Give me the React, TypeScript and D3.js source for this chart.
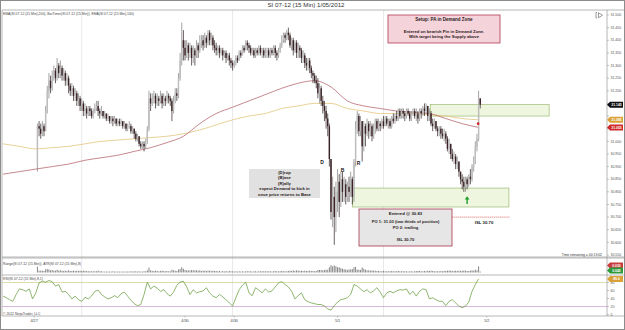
import { useEffect, useRef } from "react";
import * as d3 from "d3";

const FONT = "'Liberation Sans', Arial, sans-serif";

// 15 min bars. slot 0 = left edge of the chart, first visible bar is slot 21
// open of each bar = close of the bar before
const firstSlot = 21;
const firstOpen = 30.9;
const closes = [
  31.06, 31.05, 31.03, 31.06, 31.04, 31.12, 31.2, 31.24, 31.21, 31.26,
  31.28, 31.25, 31.3, 31.27, 31.29, 31.26, 31.27, 31.24, 31.25, 31.22,
  31.2, 31.21, 31.18, 31.19, 31.16, 31.17, 31.14, 31.15, 31.12, 31.13,
  31.11, 31.13, 31.12, 31.1, 31.12, 31.13, 31.14, 31.12, 31.11, 31.12,
  31.1, 31.11, 31.09, 31.1, 31.08, 31.09, 31.08, 31.09, 31.07, 31.08,
  31.07, 31.08, 31.06, 31.07, 31.05, 31.06, 31.06, 31.04, 31.05, 31.03,
  31.01, 31.02, 30.99, 30.98, 30.99, 30.98, 31.0, 31.05, 31.17, 31.15,
  31.17, 31.18, 31.15, 31.17, 31.16, 31.18, 31.15, 31.17, 31.16, 31.18,
  31.17, 31.16, 31.12, 31.16, 31.19, 31.18, 31.25, 31.32, 31.4, 31.37,
  31.34, 31.38, 31.35, 31.37, 31.33, 31.36, 31.34, 31.38, 31.36, 31.39,
  31.4, 31.38, 31.41, 31.39, 31.43, 31.4, 31.41, 31.38, 31.37, 31.36,
  31.37, 31.35, 31.36, 31.34, 31.35, 31.33, 31.34, 31.32, 31.31, 31.3,
  31.31, 31.33, 31.32, 31.35, 31.34, 31.37, 31.36, 31.39, 31.38, 31.37,
  31.35, 31.36, 31.34, 31.36, 31.35, 31.37, 31.35, 31.36, 31.34, 31.35,
  31.36, 31.34, 31.36, 31.35, 31.37, 31.35, 31.34, 31.36, 31.38, 31.4,
  31.42, 31.41, 31.43, 31.42, 31.38, 31.4, 31.36, 31.39, 31.35, 31.37,
  31.36, 31.33, 31.34, 31.31, 31.3, 31.32, 31.29, 31.27, 31.26, 31.24,
  31.23, 31.19, 31.21, 31.16, 31.14, 31.12, 31.09, 31.06, 30.93, 30.72,
  30.78, 30.7, 30.8, 30.84, 30.76, 30.85, 30.8, 30.83, 30.78, 30.82,
  30.8, 30.85, 30.78, 30.92, 31.05, 31.1, 31.04, 31.08, 30.98, 31.06,
  31.03, 31.07, 31.04, 31.06, 31.02, 31.05, 31.08, 31.05, 31.07, 31.06,
  31.08, 31.06, 31.09, 31.07, 31.08, 31.06, 31.09, 31.08, 31.1, 31.09,
  31.12, 31.1, 31.12, 31.11, 31.1, 31.12, 31.11, 31.09, 31.11, 31.12,
  31.1, 31.11, 31.09, 31.12, 31.11, 31.13, 31.12, 31.14, 31.1, 31.11,
  31.07, 31.06, 31.08, 31.05, 31.04, 31.05, 31.03, 31.02, 31.03, 31.01,
  30.97, 30.99, 30.95, 30.93, 30.94, 30.91, 30.92, 30.88, 30.85, 30.84,
  30.82, 30.85, 30.83, 30.86, 30.85, 30.9, 30.92, 30.98, 31.01, 31.17, 31.145,
];
const highs = [
  31.07, 31.08, 31.07, 31.08, 31.07, 31.14, 31.22, 31.27, 31.26, 31.28,
  31.3, 31.29, 31.33, 31.31, 31.32, 31.3, 31.29, 31.28, 31.27, 31.26,
  31.23, 31.23, 31.22, 31.21, 31.2, 31.19, 31.18, 31.17, 31.16, 31.15,
  31.14, 31.14, 31.14, 31.13, 31.13, 31.15, 31.16, 31.16, 31.13, 31.14,
  31.12, 31.12, 31.11, 31.11, 31.1, 31.1, 31.1, 31.1, 31.09, 31.09,
  31.09, 31.09, 31.08, 31.08, 31.07, 31.07, 31.08, 31.07, 31.06, 31.05,
  31.04, 31.03, 31.02, 31.0, 31.0, 31.0, 31.01, 31.06, 31.2, 31.19,
  31.19, 31.2, 31.19, 31.19, 31.18, 31.2, 31.19, 31.19, 31.18, 31.2,
  31.19, 31.18, 31.17, 31.18, 31.21, 31.21, 31.27, 31.35, 31.47, 31.44,
  31.4, 31.4, 31.39, 31.39, 31.38, 31.38, 31.37, 31.4, 31.39, 31.42,
  31.42, 31.42, 31.43, 31.42, 31.44, 31.44, 31.43, 31.42, 31.4, 31.39,
  31.38, 31.38, 31.37, 31.37, 31.36, 31.36, 31.35, 31.35, 31.33, 31.32,
  31.32, 31.34, 31.34, 31.36, 31.36, 31.38, 31.38, 31.4, 31.4, 31.39,
  31.38, 31.37, 31.37, 31.37, 31.37, 31.38, 31.38, 31.37, 31.37, 31.37,
  31.37, 31.37, 31.37, 31.37, 31.38, 31.38, 31.36, 31.37, 31.39, 31.42,
  31.43, 31.43, 31.44, 31.45, 31.43, 31.41, 31.41, 31.4, 31.4, 31.39,
  31.38, 31.37, 31.36, 31.35, 31.33, 31.33, 31.33, 31.3, 31.28, 31.27,
  31.26, 31.25, 31.23, 31.22, 31.18, 31.16, 31.14, 31.11, 31.07, 30.93,
  30.86, 30.82, 30.84, 30.89, 30.87, 30.88, 30.88, 30.86, 30.85, 30.84,
  30.86, 30.88, 30.86, 30.93, 31.08, 31.12, 31.11, 31.1, 31.08, 31.08,
  31.07, 31.09, 31.08, 31.08, 31.07, 31.07, 31.09, 31.09, 31.09, 31.08,
  31.09, 31.1, 31.1, 31.1, 31.09, 31.09, 31.1, 31.11, 31.11, 31.12,
  31.13, 31.13, 31.13, 31.13, 31.12, 31.13, 31.13, 31.12, 31.12, 31.13,
  31.13, 31.13, 31.12, 31.13, 31.13, 31.14, 31.15, 31.15, 31.14, 31.13,
  31.12, 31.09, 31.09, 31.08, 31.06, 31.06, 31.06, 31.05, 31.05, 31.04,
  31.02, 31.01, 30.99, 30.97, 30.96, 30.95, 30.94, 30.92, 30.88, 30.87,
  30.86, 30.86, 30.86, 30.87, 30.89, 30.91, 30.94, 31.0, 31.03, 31.2, 31.16,
];
const lows = [
  30.88, 31.02, 31.01, 31.02, 31.02, 31.04, 31.11, 31.17, 31.19, 31.2,
  31.24, 31.23, 31.24, 31.25, 31.25, 31.24, 31.24, 31.22, 31.22, 31.19,
  31.18, 31.18, 31.16, 31.16, 31.14, 31.14, 31.12, 31.12, 31.1, 31.1,
  31.09, 31.1, 31.1, 31.09, 31.09, 31.11, 31.12, 31.1, 31.09, 31.1,
  31.09, 31.09, 31.08, 31.08, 31.07, 31.07, 31.06, 31.07, 31.06, 31.06,
  31.06, 31.06, 31.05, 31.05, 31.04, 31.04, 31.05, 31.03, 31.03, 31.01,
  31.0, 31.0, 30.98, 30.97, 30.97, 30.96, 30.97, 30.99, 31.04, 31.12,
  31.14, 31.15, 31.13, 31.14, 31.14, 31.15, 31.13, 31.14, 31.14, 31.15,
  31.15, 31.14, 31.08, 31.11, 31.15, 31.16, 31.17, 31.24, 31.3, 31.32,
  31.32, 31.33, 31.32, 31.33, 31.3, 31.31, 31.3, 31.33, 31.33, 31.35,
  31.37, 31.36, 31.37, 31.37, 31.38, 31.38, 31.38, 31.36, 31.35, 31.34,
  31.34, 31.33, 31.34, 31.32, 31.33, 31.31, 31.32, 31.3, 31.29, 31.28,
  31.29, 31.3, 31.31, 31.32, 31.33, 31.34, 31.35, 31.36, 31.36, 31.35,
  31.34, 31.34, 31.33, 31.33, 31.34, 31.34, 31.34, 31.33, 31.33, 31.33,
  31.33, 31.33, 31.33, 31.34, 31.34, 31.33, 31.32, 31.33, 31.35, 31.37,
  31.39, 31.39, 31.4, 31.4, 31.37, 31.36, 31.34, 31.35, 31.33, 31.33,
  31.33, 31.31, 31.31, 31.29, 31.28, 31.28, 31.27, 31.25, 31.23, 31.23,
  31.21, 31.17, 31.15, 31.14, 31.11, 31.08, 31.05, 31.02, 30.9, 30.69,
  30.66, 30.59, 30.64, 30.72, 30.7, 30.74, 30.76, 30.76, 30.75, 30.76,
  30.76, 30.78, 30.75, 30.76, 30.9, 31.03, 31.02, 31.02, 30.92, 30.96,
  30.98, 31.02, 31.01, 31.02, 31.0, 31.01, 31.03, 31.04, 31.04, 31.04,
  31.05, 31.05, 31.06, 31.06, 31.05, 31.05, 31.05, 31.07, 31.07, 31.08,
  31.08, 31.09, 31.09, 31.09, 31.08, 31.09, 31.1, 31.08, 31.08, 31.1,
  31.09, 31.08, 31.07, 31.08, 31.09, 31.1, 31.1, 31.11, 31.08, 31.08,
  31.06, 31.04, 31.05, 31.04, 31.02, 31.02, 31.01, 31.01, 31.0, 30.99,
  30.96, 30.95, 30.93, 30.92, 30.91, 30.89, 30.89, 30.86, 30.83, 30.81,
  30.8, 30.8, 30.81, 30.82, 30.83, 30.84, 30.88, 30.91, 30.96, 31.0, 31.13,
];

// EMA values every 10 slots, from slot 0
const emaStep = 10;
const ema200 = [
  30.99, 30.98, 30.97, 30.975, 30.98, 30.99, 31.0, 31.005, 31.01, 31.015,
  31.02, 31.03, 31.045, 31.065, 31.085, 31.1, 31.11, 31.13, 31.14, 31.15,
  31.15, 31.13, 31.12, 31.11, 31.11, 31.11, 31.105, 31.1, 31.09, 31.085,
];
const ema100 = [
  30.87, 30.88, 30.89, 30.9, 30.91, 30.925, 30.935, 30.945, 30.96, 30.975,
  30.995, 31.02, 31.07, 31.11, 31.135, 31.16, 31.185, 31.21, 31.23, 31.24,
  31.215, 31.16, 31.14, 31.13, 31.12, 31.115, 31.11, 31.09, 31.07, 31.055,
];

// RSI(8,1) read every 2 slots, from slot 0
const rsiStep = 2;
const rsiValues = [
  46, 42, 37, 33, 50, 64, 62, 58, 64, 39,
  54, 79, 83, 81, 85, 82, 71, 75, 56, 58,
  50, 39, 46, 37, 33, 43, 39, 46, 58, 61,
  50, 44, 39, 42, 47, 42, 52, 56, 46, 36,
  27, 22, 25, 50, 81, 64, 71, 66, 58, 62,
  52, 46, 56, 73, 81, 83, 69, 50, 62, 54,
  57, 59, 67, 54, 46, 42, 50, 44, 37, 29,
  21, 42, 62, 73, 81, 54, 47, 67, 61, 54,
  64, 56, 59, 69, 79, 82, 75, 69, 58, 39,
  47, 54, 37, 32, 29, 27, 25, 25, 21, 14,
  11, 22, 31, 37, 39, 42, 50, 75, 71, 64,
  57, 62, 54, 59, 67, 56, 42, 54, 58, 54,
  59, 62, 61, 64, 50, 58, 46, 58, 64, 62,
  39, 42, 37, 33, 33, 22, 33, 37, 29, 21,
  17, 21, 31, 58, 75, 89,
];

const priceTicks = [
  31.5, 31.45, 31.4, 31.35, 31.3, 31.25, 31.2, 31.15, 31.1, 31.05,
  31.0, 30.95, 30.9, 30.85, 30.8, 30.75, 30.7, 30.65, 30.6, 30.55,
];
const rsiTicks = [80, 60, 40, 20, 0];
const rsiLevels = [80, 20];
const dateLabels = ["4/27", "4/30", "4/30", "5/1", "5/2"];
const dateSlots = [19, 111, 141, 204, 295];
const gridSlots = [48, 140, 232];

// drawing objects (time in slots, price)
const supplyZone = { from: 260.5, to: 333, top: 31.145, bottom: 31.1 };
const demandZone = { from: 213, to: 308.5, top: 30.815, bottom: 30.74 };
const stopLine = { from: 274, to: 309, price: 30.7 };
const entryArrow = { slot: 283, tip: 30.783, tail: 30.752 };
const pinDot = { slot: 290, price: 31.07 };

function App() {
  const ref = useRef<SVGSVGElement>(null);

  useEffect(() => {
    const svg = d3.select(ref.current);
    svg.selectAll("*").remove();

    const left = 2;
    const right = 607;
    const mainTop = 10;
    const mainBottom = 258;
    const rangeBottom = 275;
    const rsiBottom = 316;

    const x = d3.scaleLinear().domain([0, 291]).range([3, 480.24]);
    const y = d3.scaleLinear().domain([30.55, 31.5]).range([255, 15]);
    const yRange = d3.scaleLinear().domain([0, 0.34]).range([272.5, 262]);
    const yRsi = d3.scaleLinear().domain([0, 100]).range([314.5, 274.5]);

    svg.append("rect").attr("width", 625).attr("height", 330).attr("fill", "#fff");

    svg
      .append("defs")
      .append("clipPath")
      .attr("id", "mainClip")
      .append("rect")
      .attr("x", left)
      .attr("y", mainTop)
      .attr("width", right - left)
      .attr("height", mainBottom - mainTop);

    // vertical grid lines over all panels
    svg
      .selectAll("line.grid")
      .data(gridSlots)
      .enter()
      .append("line")
      .attr("class", "grid")
      .attr("x1", (d) => x(d))
      .attr("x2", (d) => x(d))
      .attr("y1", mainTop)
      .attr("y2", rsiBottom)
      .attr("stroke", "#d8d8d8")
      .attr("stroke-width", 0.6);

    // frame and panel separators
    const frame = svg.append("g").attr("stroke", "#9a9a9a").attr("stroke-width", 0.7);
    frame.append("line").attr("x1", left).attr("x2", 625).attr("y1", mainTop).attr("y2", mainTop);
    frame.append("line").attr("x1", left).attr("x2", left).attr("y1", mainTop).attr("y2", rsiBottom);
    frame.append("line").attr("x1", right).attr("x2", right).attr("y1", mainTop).attr("y2", rsiBottom);
    [mainBottom - 1, mainBottom, rangeBottom, rsiBottom].forEach((v) => {
      frame.append("line").attr("x1", left).attr("x2", 625).attr("y1", v).attr("y2", v);
    });
    svg
      .append("rect")
      .attr("x", 0.5)
      .attr("y", 0.5)
      .attr("width", 624)
      .attr("height", 329)
      .attr("fill", "none")
      .attr("stroke", "#8c8c8c")
      .attr("stroke-width", 1);

    // title + indicator captions
    svg
      .append("text")
      .attr("x", 306)
      .attr("y", 7)
      .attr("text-anchor", "middle")
      .attr("font-size", 6.2)
      .attr("fill", "#333")
      .text("SI 07-12 (15 Min)  1/05/2012");
    const caption = (tx: number, ty: number, t: string) =>
      svg
        .append("text")
        .attr("x", tx)
        .attr("y", ty)
        .attr("font-size", 3.4)
        .attr("fill", "#444")
        .text(t);
    caption(3, 14.5, "EMA(SI 07-12 (15 Min),200), BarTimer(SI 07-12 (15 Min)), EMA(SI 07-12 (15 Min),100)");
    caption(3, 264.5, "Range(SI 07-12 (15 Min)), ATR(SI 07-12 (15 Min),8)");
    caption(3, 280, "RSI(SI 07-12 (15 Min),8,1)");
    caption(3, 314.5, "\u00a9 2012 NinjaTrader, LLC");

    // small chart-trader toggle icon
    svg
      .append("path")
      .attr("d", "M597,12.5 L596,12.5 L596,18 L597,18 M598.5,12.8 L598.5,17.7 L602.5,15.25 Z")
      .attr("fill", "none")
      .attr("stroke", "#555")
      .attr("stroke-width", 0.6);

    const main = svg.append("g").attr("clip-path", "url(#mainClip)");

    // zones
    [supplyZone, demandZone].forEach((z) => {
      main
        .append("rect")
        .attr("x", x(z.from))
        .attr("y", y(z.top))
        .attr("width", x(z.to) - x(z.from))
        .attr("height", y(z.bottom) - y(z.top))
        .attr("fill", "#eef6df")
        .attr("stroke", "#8fb060")
        .attr("stroke-width", 0.6);
    });

    // EMAs
    const emaLine = d3
      .line<number>()
      .x((_, i) => x(i * emaStep))
      .y((d) => y(d))
      .curve(d3.curveMonotoneX);
    main.append("path").attr("d", emaLine(ema200)).attr("fill", "none").attr("stroke", "#e3c57e").attr("stroke-width", 0.8);
    main.append("path").attr("d", emaLine(ema100)).attr("fill", "none").attr("stroke", "#b86a72").attr("stroke-width", 0.8);

    // candles
    const bars = closes.map((c, i) => ({
      slot: firstSlot + i,
      o: i === 0 ? firstOpen : closes[i - 1],
      h: highs[i],
      l: lows[i],
      c,
    }));
    main
      .selectAll("line.wick")
      .data(bars)
      .enter()
      .append("line")
      .attr("class", "wick")
      .attr("x1", (d) => x(d.slot))
      .attr("x2", (d) => x(d.slot))
      .attr("y1", (d) => y(Math.max(d.h, d.o, d.c)))
      .attr("y2", (d) => y(Math.min(d.l, d.o, d.c)))
      .attr("stroke", (d) => (d.c >= d.o ? "#7c7c7c" : "#2a1c1e"))
      .attr("stroke-width", 0.7);
    main
      .selectAll("rect.body")
      .data(bars)
      .enter()
      .append("rect")
      .attr("class", "body")
      .attr("x", (d) => x(d.slot) - 0.7)
      .attr("width", 1.4)
      .attr("y", (d) => y(Math.max(d.o, d.c)))
      .attr("height", (d) => Math.max(0.6, Math.abs(y(d.o) - y(d.c))))
      .attr("fill", (d) => (d.c >= d.o ? "#bdbdbd" : "#3a2226"));

    // stop line, arrow, marker dot
    main
      .append("line")
      .attr("x1", x(stopLine.from))
      .attr("x2", x(stopLine.to))
      .attr("y1", y(stopLine.price))
      .attr("y2", y(stopLine.price))
      .attr("stroke", "#d42020")
      .attr("stroke-width", 0.7)
      .attr("stroke-dasharray", "1,1");
    const ax = x(entryArrow.slot);
    const ty = y(entryArrow.tip);
    main
      .append("path")
      .attr("d", `M${ax},${ty} L${ax - 2.4},${ty + 3.4} L${ax - 0.7},${ty + 3.4} L${ax - 0.7},${y(entryArrow.tail)} L${ax + 0.7},${y(entryArrow.tail)} L${ax + 0.7},${ty + 3.4} L${ax + 2.4},${ty + 3.4} Z`)
      .attr("fill", "#1e9e2a");
    main
      .append("circle")
      .attr("cx", x(pinDot.slot) - 0.5)
      .attr("cy", y(pinDot.price))
      .attr("r", 1.3)
      .attr("fill", "#d42020");

    // D / B / R markers
    const mark = (tx: number, ty: number, t: string) =>
      svg
        .append("text")
        .attr("x", tx)
        .attr("y", ty)
        .attr("text-anchor", "middle")
        .attr("font-size", 5)
        .attr("font-weight", "bold")
        .attr("fill", "#1a1a1a")
        .text(t);
    mark(322, 164, "D");
    mark(342.5, 172, "B");
    mark(358.5, 165, "R");

    // text boxes
    const textBox = (
      bx: number,
      by: number,
      bw: number,
      bh: number,
      fill: string,
      stroke: string | null,
      lines: { t: string; dy: number; size: number }[]
    ) => {
      const g = svg.append("g");
      g.append("rect")
        .attr("x", bx)
        .attr("y", by)
        .attr("width", bw)
        .attr("height", bh)
        .attr("fill", fill)
        .attr("stroke", stroke || "none")
        .attr("stroke-width", 0.8);
      lines.forEach((l) => {
        g.append("text")
          .attr("x", bx + bw / 2)
          .attr("y", by + l.dy)
          .attr("text-anchor", "middle")
          .attr("font-size", l.size)
          .attr("font-weight", "bold")
          .attr("fill", "#2a1a1a")
          .text(l.t);
      });
    };
    textBox(388, 15, 112, 28, "#f5d3da", "#b03a52", [
      { t: "Setup: PA in Demand Zone", dy: 6, size: 4.5 },
      { t: "Entered on bearish Pin in Demand Zone.", dy: 18, size: 4.2 },
      { t: "With target being the Supply above", dy: 23, size: 4.2 },
    ]);
    textBox(249, 169, 71, 29, "#e1e1e1", null, [
      { t: "(D)rop", dy: 4.5, size: 4.2 },
      { t: "(B)ase", dy: 10, size: 4.2 },
      { t: "(R)ally", dy: 15.5, size: 4.2 },
      { t: "expect Demand to kick in", dy: 21, size: 4.2 },
      { t: "once price returns to Base", dy: 26.5, size: 4.2 },
    ]);
    textBox(359, 209, 93, 37, "#e6e6e6", "#a8344a", [
      { t: "Entered @ 30.83", dy: 6, size: 4.3 },
      { t: "PO 1: 31.03 (two thirds of position)", dy: 14, size: 4.1 },
      { t: "PO 2: trailing", dy: 19.5, size: 4.1 },
      { t: "ISL 30.70", dy: 31.5, size: 4.1 },
    ]);
    svg
      .append("text")
      .attr("x", 484)
      .attr("y", 223.5)
      .attr("text-anchor", "middle")
      .attr("font-size", 4.3)
      .attr("font-weight", "bold")
      .attr("fill", "#222")
      .text("ISL 30.70");
    svg
      .append("text")
      .attr("x", 602)
      .attr("y", 255.5)
      .attr("text-anchor", "end")
      .attr("font-size", 3.4)
      .attr("fill", "#333")
      .text("Time remaining = 00:13:02");

    // range panel
    svg
      .append("g")
      .selectAll("line")
      .data(bars)
      .enter()
      .append("line")
      .attr("x1", (d) => x(d.slot))
      .attr("x2", (d) => x(d.slot))
      .attr("y1", yRange(0))
      .attr("y2", (d) => Math.min(yRange(0) - 0.8, yRange(d.h - d.l)))
      .attr("stroke", "#333")
      .attr("stroke-width", 0.6);

    // RSI panel
    rsiLevels.forEach((v, i) => {
      svg
        .append("line")
        .attr("x1", left)
        .attr("x2", right)
        .attr("y1", yRsi(v))
        .attr("y2", yRsi(v))
        .attr("stroke", i === 0 ? "#cfd08c" : "#c99ad0")
        .attr("stroke-width", 0.7);
    });
    const rsiLine = d3
      .line<number>()
      .x((_, i) => x(i * rsiStep))
      .y((d) => yRsi(d));
    svg
      .append("path")
      .attr("d", rsiLine(rsiValues))
      .attr("fill", "none")
      .attr("stroke", "#5f9634")
      .attr("stroke-width", 0.7);

    // right axis: price labels
    const lastClose = closes[closes.length - 1];
    const markers = [
      { v: lastClose, fill: "#111", text: "#fff" },
      { v: ema200[ema200.length - 1], fill: "#d9a137", text: "#fff" },
      { v: ema100[ema100.length - 1], fill: "#cf2a2a", text: "#fff" },
    ];
    const axis = svg.append("g").attr("font-size", 3.5).attr("fill", "#555");
    priceTicks.forEach((t) => {
      const ty2 = y(t);
      axis.append("line").attr("x1", right).attr("x2", right + 2).attr("y1", ty2).attr("y2", ty2).attr("stroke", "#888").attr("stroke-width", 0.5);
      if (markers.some((m) => Math.abs(y(m.v) - ty2) < 5.5)) return;
      axis.append("text").attr("x", right + 3.5).attr("y", ty2 + 1.2).text(t.toFixed(3));
    });
    const tag = (ty2: number, fill: string, color: string, label: string) => {
      svg
        .append("path")
        .attr("d", `M${right},${ty2} L${right + 3},${ty2 - 3} L${right + 16},${ty2 - 3} L${right + 16},${ty2 + 3} L${right + 3},${ty2 + 3} Z`)
        .attr("fill", fill);
      svg
        .append("text")
        .attr("x", right + 9.5)
        .attr("y", ty2 + 1.2)
        .attr("text-anchor", "middle")
        .attr("font-size", 3.4)
        .attr("font-weight", "bold")
        .attr("fill", color)
        .text(label);
    };
    markers.forEach((m) => tag(y(m.v), m.fill, m.text, m.v.toFixed(3)));
    tag(265.5, "#c83c3c", "#fff", "0.030");
    tag(270.5, "#2e9a3a", "#fff", "0.045");

    // RSI axis
    rsiTicks.forEach((t) => {
      const ty2 = yRsi(t);
      axis.append("line").attr("x1", right).attr("x2", right + 2).attr("y1", ty2).attr("y2", ty2).attr("stroke", "#888").attr("stroke-width", 0.5);
      axis.append("text").attr("x", right + 3.5).attr("y", ty2 + 1.2).text(String(t));
    });
    tag(yRsi(rsiValues[rsiValues.length - 1]), "#d9a137", "#fff", rsiValues[rsiValues.length - 1].toFixed(1));

    // time axis
    dateSlots.forEach((s, i) => {
      svg.append("line").attr("x1", x(s)).attr("x2", x(s)).attr("y1", rsiBottom).attr("y2", rsiBottom + 1.5).attr("stroke", "#888").attr("stroke-width", 0.5);
      svg
        .append("text")
        .attr("x", x(s))
        .attr("y", 321.5)
        .attr("text-anchor", "middle")
        .attr("font-size", 3.8)
        .attr("fill", "#444")
        .text(dateLabels[i]);
    });
  }, []);

  return (
    <svg
      ref={ref}
      width={625}
      height={330}
      style={{ position: "absolute", left: 0, top: 0, fontFamily: FONT }}
    />
  );
}

export default App;
